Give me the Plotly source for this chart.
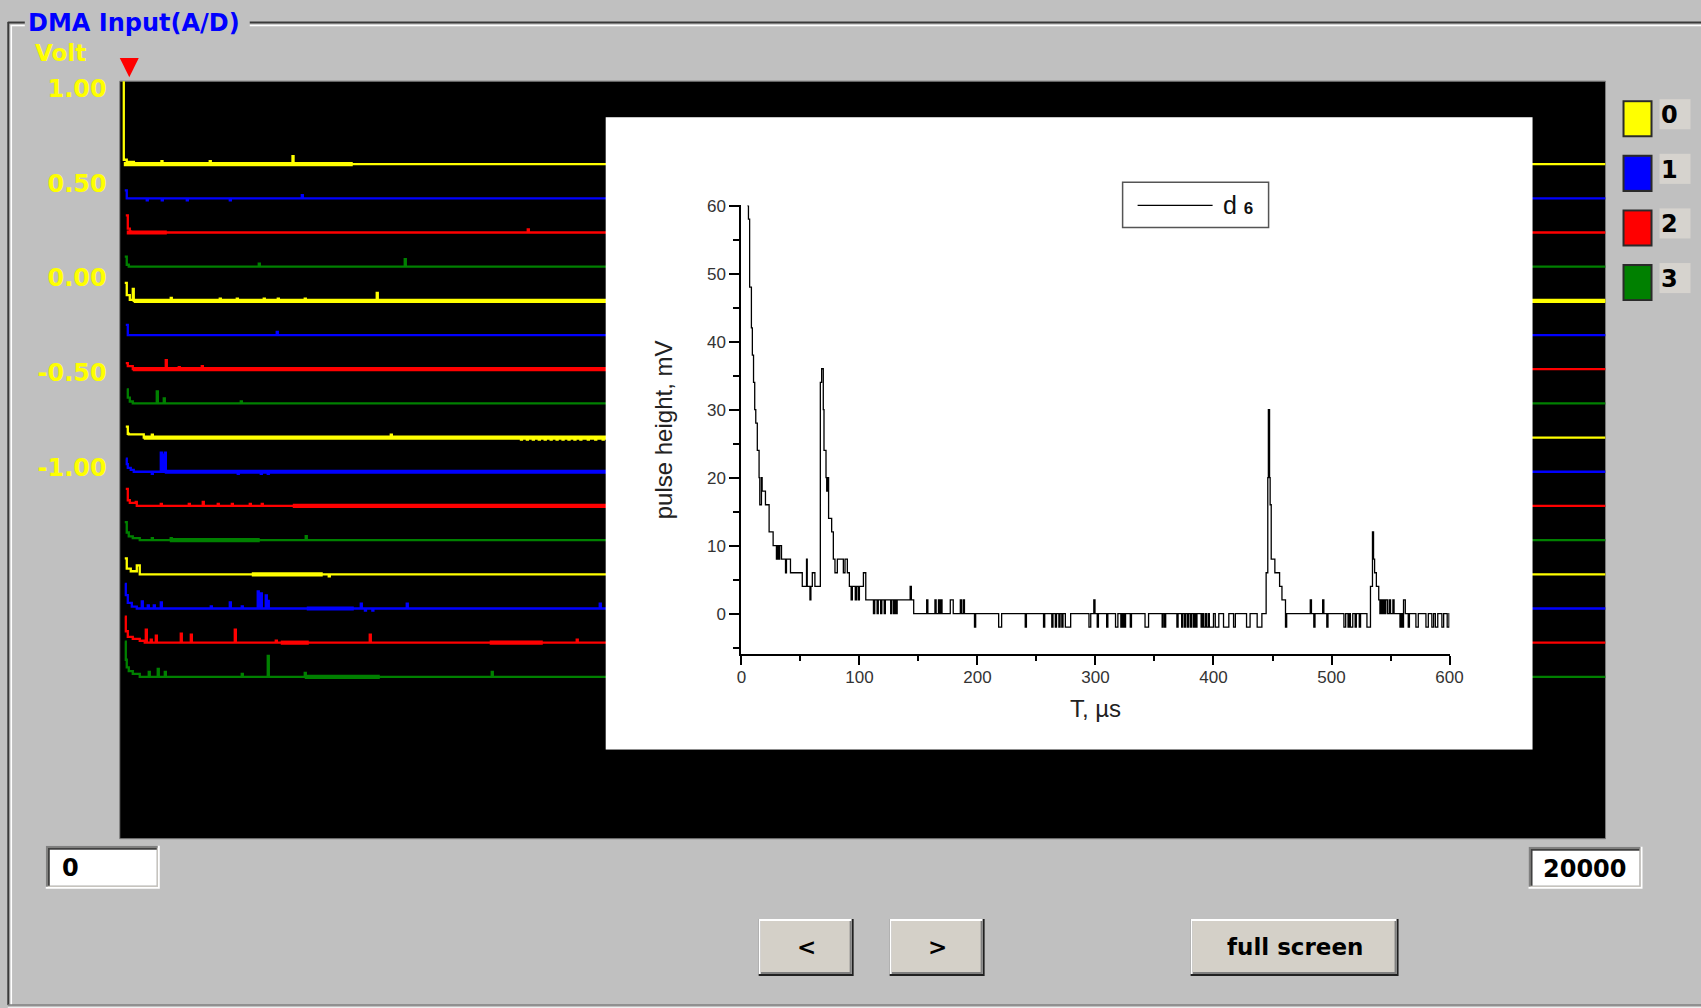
import plotly.graph_objects as go

W, H = 1701, 1008
# the page is photographed with a small offset/scale; place items so that
# they land on the intended screen pixel
OX, OY, SX, SY = 5.2, 9.0, 0.989, 0.989


def fx(x):
    return (x - OX) / SX / W


def fy(y):
    return 1 - (y - OY) / SY / H


# ---------------- main 16-row display (DMA Input A/D) ----------------
CHANNEL_NAMES = ["0", "1", "2", "3"]
CHANNEL_COLORS = ["#ffff00", "#0000ff", "#ff0000", "#008000"]
Y_TICK_VALS = [1.0, 0.5, 0.0, -0.5, -1.0]
Y_TICK_TEXT = ["1.00", "0.50", "0.00", "-0.50", "-1.00"]
X_RANGE_LABELS = ["0", "20000"]
X_MAX = 20000

ROW_BASE = [0.60, 0.42, 0.24, 0.06, -0.12, -0.30, -0.48, -0.66,
            -0.84, -1.02, -1.20, -1.38, -1.56, -1.74, -1.92, -2.10]

ROW_DECAY = [
    [(40, 0.50), (54, 0.023), (94, 0.012), (190, 0.0)],
    [(67, 0.042), (94, 0.0)],
    [(81, 0.090), (108, 0.020), (135, 0.005), (150, 0.0)],
    [(67, 0.053), (94, 0.010), (121, 0.0)],
    [(67, 0.095), (94, 0.030), (135, 0.005), (175, 0.063), (188, 0.0)],
    [(81, 0.053), (108, 0.0)],
    [(81, 0.032), (108, 0.016), (175, 0.0)],
    [(94, 0.074), (108, 0.030), (135, 0.010), (175, 0.0)],
    [(81, 0.058), (108, 0.020), (121, 0.017), (323, 0.0)],
    [(81, 0.069), (94, 0.040), (108, 0.020), (148, 0.010), (188, 0.0)],
    [(81, 0.090), (108, 0.030), (135, 0.016), (269, 0.0)],
    [(67, 0.095), (94, 0.040), (121, 0.020), (175, 0.010), (269, 0.0)],
    [(67, 0.084), (94, 0.030), (148, 0.016), (229, 0.047), (269, 0.0)],
    [(67, 0.130), (81, 0.070), (108, 0.030), (162, 0.010), (229, 0.0)],
    [(67, 0.137), (81, 0.060), (108, 0.030), (175, 0.020), (269, 0.010), (336, 0.0)],
    [(67, 0.185), (81, 0.090), (94, 0.050), (121, 0.030), (175, 0.016), (269, 0.0)],
]

ROW_SPIKES = [
    [(561, 0.016), (1211, 0.016), (2325, 0.042)],
    [(363, -0.011), (565, -0.011), (902, -0.011), (1481, -0.011), (2450, 0.016)],
    [(5492, 0.016)],
    [(1871, 0.016), (3836, 0.040)],
    [(686, 0.016), (1346, 0.011), (1575, 0.011), (1938, 0.011), (2127, 0.011),
     (2490, 0.011), (3459, 0.042)],
    [(2113, 0.016)],
    [(619, 0.048), (794, 0.011), (1104, 0.016)],
    [(498, 0.063), (592, 0.026), (1629, 0.011)],
    [(431, 0.016), (3648, 0.016), (5400, -0.011), (5480, -0.011), (5560, -0.011),
     (5640, -0.011), (5720, -0.011), (5800, -0.011), (5880, -0.011),
     (5960, -0.011), (6040, -0.011), (6120, -0.011), (6200, -0.011),
     (6300, -0.011), (6400, -0.011), (6500, -0.011)],
    [(431, -0.011), (552, 0.100), (579, 0.090), (606, 0.100), (1588, -0.011),
     (1898, -0.011), (1992, -0.011)],
    [(215, 0.021), (552, 0.011), (929, 0.011), (1117, 0.021), (1319, 0.011),
     (1508, 0.011), (1750, 0.011), (1911, 0.011)],
    [(431, 0.011), (686, 0.011), (2503, 0.021)],
    [(2813, -0.011)],
    [(296, 0.037), (377, 0.016), (458, 0.016), (552, 0.032), (1225, 0.011),
     (1481, 0.032), (1642, 0.011), (1857, 0.090), (1898, 0.080), (1965, 0.069),
     (1992, 0.040), (3244, 0.026), (3300, -0.011), (3400, -0.011), (3863, 0.026),
     (6461, 0.026)],
    [(350, 0.069), (417, 0.016), (485, 0.037), (821, 0.047), (956, 0.042),
     (1548, 0.069), (2100, 0.011), (3365, 0.042), (6151, 0.016)],
    [(390, 0.026), (511, 0.042), (606, 0.026), (1642, 0.016), (1992, 0.110),
     (2490, 0.021), (5007, 0.026)],
]

ROW_THICK = [
    [(54, 3136)], [], [(94, 633)], [], [(188, 20000)], [], [(175, 10000)], [],
    [(323, 10000)], [(606, 10000)], [(2329, 10000)], [(673, 1884)],
    [(1777, 2732)], [(2517, 3150)], [(2167, 2544), (4980, 5694)], [(2490, 3500)],
]
SPIKE_W = 14

INSET_STEPS = [
    (5.0, 60), (6.0, 58), (7.0, 48), (8.5, 42), (9.3, 38), (10.3, 34), (11.3, 30),
    (12.2, 28), (13.5, 24), (15.0, 20), (15.6, 16), (17.0, 20), (17.6, 18),
    (20.4, 16), (23.5, 12), (26.9, 10), (29.7, 8), (30.5, 10), (31.5, 8),
    (32.5, 10), (34.0, 8), (37.4, 6), (38.2, 8), (41.6, 6), (51.6, 4), (55.2, 8),
    (55.8, 4), (58.1, 2), (58.9, 4), (60.1, 6), (62.3, 4), (66.9, 34), (68.0, 36),
    (69.4, 30), (70.0, 24), (71.7, 20), (72.3, 18), (73.1, 20), (73.9, 14),
    (76.5, 12), (77.9, 8), (79.3, 6), (81.3, 8), (86.4, 6), (87.8, 8), (89.8, 6),
    (91.5, 4), (93.0, 2), (94.0, 4), (96.5, 2), (97.5, 4), (99.0, 2), (100.0, 4),
    (103.4, 6), (105.4, 2), (111.9, 0), (113.0, 2), (115.0, 0), (116.0, 2),
    (118.0, 0), (119.0, 2), (121.0, 0), (122.0, 2), (126.5, 0), (127.5, 2),
    (129.0, 0), (130.0, 2), (131.0, 0), (132.0, 2), (143.0, 4), (144.0, 2),
    (146.0, 0), (157.0, 2), (158.0, 0), (164.0, 2), (165.0, 0), (167.0, 2),
    (168.0, 0), (169.0, 2), (170.0, 0), (177.0, 2), (179.5, 0), (185.5, 2),
    (186.5, 0), (188.0, 2), (189.0, 0), (197.5, -2), (198.5, 0), (218.0, -2),
    (220.5, 0), (240.5, -2), (241.5, 0), (256.0, -2), (257.0, 0), (263.0, -2),
    (264.0, 0), (266.0, -2), (267.0, 0), (269.0, -2), (270.0, 0), (271.5, -2),
    (272.5, 0), (274.5, -2), (279.0, 0), (294.5, -2), (296.0, 0), (298.6, 2),
    (299.6, 0), (301.5, -2), (302.5, 0), (309.5, -2), (310.5, 0), (317.0, -2),
    (319.0, 0), (321.5, -2), (322.3, 0), (323.0, -2), (323.8, 0), (324.5, -2),
    (325.5, 0), (329.5, -2), (330.5, 0), (342.0, -2), (345.0, 0), (356.5, -2),
    (357.3, 0), (358.5, -2), (359.5, 0), (369.0, -2), (370.0, 0), (373.0, -2),
    (374.0, 0), (375.5, -2), (376.5, 0), (378.0, -2), (379.0, 0), (380.5, -2),
    (381.5, 0), (383.0, -2), (384.0, 0), (385.0, -2), (386.0, 0), (389.5, -2),
    (390.5, 0), (391.5, -2), (393.0, 0), (394.0, -2), (395.5, 0), (396.5, -2),
    (400.0, 0), (401.5, -2), (404.5, 0), (408.5, -2), (413.0, 0), (417.0, -2),
    (418.5, 0), (428.0, -2), (431.0, 0), (437.0, -2), (441.0, 0), (444.6, 6),
    (446.0, 20), (446.5, 30), (447.5, 20), (448.0, 16), (448.9, 8), (452.0, 6),
    (456.0, 4), (458.0, 2), (461.0, -2), (462.0, 0), (482.0, 2), (483.0, 0),
    (485.0, -2), (486.0, 0), (492.5, 2), (493.5, 0), (496.0, -2), (497.0, 0),
    (510.5, -2), (512.0, 0), (514.0, -2), (515.0, 0), (516.0, -2), (518.0, 0),
    (520.0, -2), (521.0, 0), (523.5, -2), (524.6, 0), (530.0, -2), (533.0, 4),
    (534.7, 12), (535.6, 8), (536.5, 6), (538.0, 4), (540.0, 2), (541.0, 0),
    (542.0, 2), (543.0, 0), (544.0, 2), (545.0, 0), (546.0, 2), (547.5, 0),
    (549.0, 2), (550.0, 0), (552.0, 2), (553.0, 0), (558.0, -2), (559.0, 0),
    (560.0, -2), (561.0, 2), (562.5, 0), (565.0, -2), (566.0, 0), (571.5, -2),
    (573.5, 0), (580.0, -2), (582.0, 0), (585.0, -2), (586.5, 0), (588.0, -2),
    (590.0, 0), (593.5, -2), (595.0, 0), (598.0, -2), (599.5, 0), (600.0, 0),
]
INSET_T = [p[0] for p in INSET_STEPS]
INSET_V = [p[1] for p in INSET_STEPS]
INSET_LEGEND = "d"
INSET_LEGEND_SUB = "6"

fig = go.Figure()

for i, base in enumerate(ROW_BASE):
    color = CHANNEL_COLORS[i % 4]
    events = [(s, base + dv) for s, dv in ROW_DECAY[i]]
    for s, h in ROW_SPIKES[i]:
        events.append((s, base + h))
        events.append((s + SPIKE_W, base))
    events.sort(key=lambda e: e[0])
    events.append((X_MAX, base))
    fig.add_trace(go.Scatter(
        x=[e[0] for e in events], y=[e[1] for e in events],
        mode="lines", line=dict(color=color, width=2.3, shape="hv"),
        showlegend=False, hoverinfo="skip", xaxis="x", yaxis="y"))
    for a, b in ROW_THICK[i]:
        fig.add_trace(go.Scatter(
            x=[a, b], y=[base, base], mode="lines",
            line=dict(color=color, width=4.2),
            showlegend=False, hoverinfo="skip", xaxis="x", yaxis="y"))

fig.add_trace(go.Scatter(x=[None], y=[None], xaxis="x2", yaxis="y2",
                         showlegend=False, hoverinfo="skip"))

fig.add_trace(go.Scatter(
    x=INSET_T, y=INSET_V, mode="lines", name=INSET_LEGEND,
    line=dict(color="#000000", width=1.3, shape="hv"),
    showlegend=False, hoverinfo="skip", xaxis="x3", yaxis="y3"))

ARIAL = "Arial, Liberation Sans, sans-serif"
UI = "DejaVu Sans, Verdana, sans-serif"

fig.update_layout(
    width=W, height=H,
    margin=dict(l=0, r=0, t=0, b=0),
    paper_bgcolor="#c0c0c0",
    plot_bgcolor="#ffffff",
    showlegend=False,
    xaxis=dict(domain=[fx(120), fx(1606)], range=[0, X_MAX], visible=False,
               anchor="y"),
    yaxis=dict(domain=[fy(837), fy(81)], range=[-2.9525, 1.0369], anchor="x",
               tickvals=Y_TICK_VALS, ticktext=Y_TICK_TEXT,
               tickfont=dict(family=UI, size=24, color="#ffff00",
                             weight="bold"),
               ticks="", showgrid=False, zeroline=False, showline=False,
               ticklabelstandoff=12),
    xaxis2=dict(domain=[fx(606), fx(1533)], range=[0, 1], visible=False,
                anchor="y2"),
    yaxis2=dict(domain=[fy(748), fy(117)], range=[0, 1], visible=False,
                anchor="x2"),
    xaxis3=dict(domain=[fx(741.7), fx(1450)], range=[0, 600], anchor="y3",
                tick0=0, dtick=100, ticks="outside", ticklen=9, tickwidth=1.5,
                tickcolor="#000", showline=True, linecolor="#000", linewidth=2,
                showgrid=False, zeroline=False, ticklabelstandoff=-3,
                tickfont=dict(family=ARIAL, size=17, color="#333333"),
                minor=dict(dtick=50, ticks="outside", ticklen=5, tickwidth=1.5,
                           tickcolor="#000", showgrid=False),
                title=dict(text="T, µs", standoff=14,
                           font=dict(family=ARIAL, size=24, color="#222222"))),
    yaxis3=dict(domain=[fy(653), fy(205)], range=[-6, 60.02], anchor="x3",
                tick0=0, dtick=10, ticks="outside", ticklen=10, tickwidth=1.5,
                tickcolor="#000", showline=True, linecolor="#000", linewidth=2,
                showgrid=False, zeroline=False,
                tickfont=dict(family=ARIAL, size=17, color="#333333"),
                minor=dict(dtick=5, ticks="outside", ticklen=6, tickwidth=1.5,
                           tickcolor="#000", showgrid=False),
                title=dict(text="pulse height, mV", standoff=28,
                           font=dict(family=ARIAL, size=24, color="#222222"))),
)

shapes = []
annotations = []


def rect(x0, y0, x1, y1, fill, line_color=None, lw=0, layer="above"):
    shapes.append(dict(type="rect", xref="paper", yref="paper",
                       x0=fx(x0), x1=fx(x1), y0=fy(y1), y1=fy(y0),
                       fillcolor=fill, layer=layer,
                       line=dict(color=line_color or fill, width=lw)))


def hline(x0, x1, y, color, lw):
    shapes.append(dict(type="line", xref="paper", yref="paper",
                       x0=fx(x0), x1=fx(x1), y0=fy(y), y1=fy(y),
                       line=dict(color=color, width=lw), layer="above"))


def vline(x, y0, y1, color, lw):
    shapes.append(dict(type="line", xref="paper", yref="paper",
                       x0=fx(x), x1=fx(x), y0=fy(y0), y1=fy(y1),
                       line=dict(color=color, width=lw), layer="above"))


def text(x, y, s, size, color, xanchor="left", family=UI, weight="normal"):
    annotations.append(dict(x=fx(x), y=fy(y), xref="paper", yref="paper",
                            text=s, showarrow=False, xanchor=xanchor,
                            yanchor="middle",
                            font=dict(family=family, size=size, color=color,
                                      weight=weight)))


shapes.append(dict(type="rect", xref="paper", yref="paper",
                   x0=fx(120), x1=fx(1606), y0=fy(837), y1=fy(81),
                   fillcolor="#000000", layer="below",
                   line=dict(color="#7a7a7a", width=1)))

hline(8, 25, 22.5, "#3a3a3a", 2)
hline(250, 1720, 22.5, "#3a3a3a", 2)
hline(11, 25, 25.5, "#ffffff", 1.5)
hline(250, 1720, 25.5, "#ffffff", 1.5)
vline(8.5, 22, 1003, "#3a3a3a", 2)
vline(11.5, 25, 1003, "#ffffff", 1.5)
hline(8, 1720, 1003, "#808080", 1.5)
hline(8, 1720, 1006, "#ffffff", 1.5)

shapes.append(dict(type="path", xref="paper", yref="paper", layer="above",
                   path="M {} {} L {} {} L {} {} Z".format(
                       fx(120), fy(58), fx(139), fy(58), fx(129.5), fy(77)),
                   fillcolor="#ff0000", line=dict(color="#ff0000", width=0)))

text(26, 23, "DMA Input(A/D)", 24, "#0000ff", weight="bold")
text(33, 53, "Volt", 23, "#ffff00", weight="bold")

for k, (name, col) in enumerate(zip(CHANNEL_NAMES, CHANNEL_COLORS)):
    top = 100 + 54.5 * k
    rect(1623, top, 1653, top + 37, "#2a2a2a")
    rect(1625, top + 2, 1651, top + 35, col)
    rect(1660, top - 1, 1691, top + 29, "#d6d3ce")
    text(1659, top + 15, name, 24, "#000000", weight="bold")


def sunken(x0, y0, x1, y1, s, anchor_x, xanchor):
    rect(x0, y0, x1, y1, "#ffffff")
    rect(x0, y0, x1 - 2, y1 - 2, "#808080")
    rect(x0 + 2, y0 + 2, x1 - 2, y1 - 2, "#d4d0c8")
    rect(x0 + 2, y0 + 2, x1 - 3, y1 - 3, "#404040")
    rect(x0 + 4, y0 + 4, x1 - 3, y1 - 3, "#ffffff")
    text(anchor_x, (y0 + y1) / 2 + 1, s, 24, "#000000", xanchor=xanchor,
         weight="bold")


sunken(46, 844, 160, 887, X_RANGE_LABELS[0], 60, "left")
sunken(1529, 845, 1643, 887, X_RANGE_LABELS[1], 1585, "center")


def button(x0, y0, x1, y1, s):
    rect(x0, y0, x1, y1, "#202020")
    rect(x0, y0, x1 - 2, y1 - 2, "#ffffff")
    rect(x0 + 2, y0 + 2, x1 - 2, y1 - 2, "#808080")
    rect(x0 + 2, y0 + 2, x1 - 4, y1 - 4, "#d4d0c8")
    text((x0 + x1) / 2, (y0 + y1) / 2, s, 23, "#000000", xanchor="center",
         weight="bold")


button(759, 917, 854, 974, "&lt;")
button(890, 917, 985, 974, "&gt;")
button(1191, 917, 1399, 974, "full screen")

rect(1123, 182, 1269, 227, "rgba(0,0,0,0)", line_color="#555555", lw=1.5)
hline(1138, 1213, 205, "#000000", 1.2)
annotations.append(dict(
    x=fx(1221), y=fy(205), xref="paper", yref="paper", showarrow=False,
    xanchor="left", yanchor="middle",
    text=INSET_LEGEND + " <b><span style='font-size:17px'>" + INSET_LEGEND_SUB
    + "</span></b>",
    font=dict(family=ARIAL, size=25, color="#111111")))

fig.update_layout(shapes=shapes, annotations=annotations)

PAGE_CSS = ("document.documentElement.style.margin='0';"
            "document.body.style.margin='0';"
            "document.body.style.background='#c0c0c0';")
fig.write_html("out.html", post_script=PAGE_CSS)
